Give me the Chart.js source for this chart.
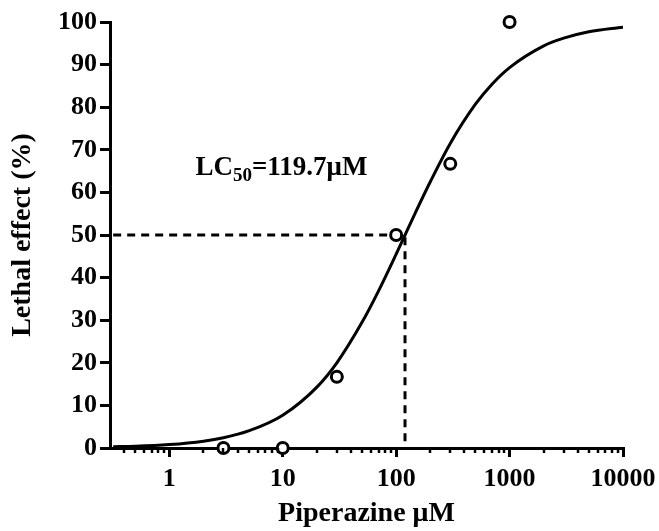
<!DOCTYPE html>
<html>
<head>
<meta charset="utf-8">
<script src="https://cdn.jsdelivr.net/npm/chart.js@4.4.1/dist/chart.umd.min.js"></script>
<style>
  html, body { margin: 0; padding: 0; background: #fff; }
  canvas { display: block; }
</style>
</head>
<body>
<canvas id="lethalChart" width="659" height="531"></canvas>
<script>
  // Observed points (concentration in µM, lethal effect in %)
  const doses = [3, 10, 30, 100, 300, 1000];
  const effects = [0, 0, 16.7, 50, 66.7, 100];

  // Fitted curve
  const curveX = [0.32, 0.5, 1, 2, 3, 5, 10, 20, 30, 50, 70, 100, 150, 200, 300, 500, 700, 1000, 2000, 3000, 5000, 10000];
  const curveY = [0.3, 0.4, 0.8, 1.6, 2.4, 4.0, 7.7, 14.3, 20.0, 29.5, 36.9, 45.5, 55.6, 62.5, 71.5, 80.7, 85.4, 89.3, 94.4, 96.2, 97.7, 98.8];

  const lc50 = 119.7;
  const xMin = 0.32;
  const xMax = 10000;
  const xTickValues = [1, 10, 100, 1000, 10000];

  const serif = "'Liberation Serif', 'Times New Roman', serif";

  // minor log ticks + LC50 label
  const extras = {
    id: 'extras',
    afterDraw(chart) {
      const ctx = chart.ctx;
      const x = chart.scales.x;
      const y = chart.scales.y;
      ctx.save();
      ctx.strokeStyle = '#000';
      ctx.lineWidth = 2.5;
      for (let d = 0.1; d < xMax; d *= 10) {
        for (let m = 2; m <= 9; m++) {
          const v = m * d;
          if (v < xMin || v > xMax) continue;
          const px = Math.round(x.getPixelForValue(v));
          ctx.beginPath();
          ctx.moveTo(px, x.top);
          ctx.lineTo(px, x.top + 5);
          ctx.stroke();
        }
      }

      let tx = x.getPixelForValue(1.7);
      const ty = y.getPixelForValue(64);
      ctx.fillStyle = '#000';
      ctx.textBaseline = 'alphabetic';
      ctx.font = 'bold 27px ' + serif;
      ctx.fillText('LC', tx, ty);
      tx += ctx.measureText('LC').width;
      ctx.font = 'bold 19px ' + serif;
      ctx.fillText('50', tx, ty + 6);
      tx += ctx.measureText('50').width;
      ctx.font = 'bold 27px ' + serif;
      ctx.fillText('=119.7\u03bcM', tx, ty);
      ctx.restore();
    }
  };

  const config = {
    type: 'scatter',
    data: {
      datasets: [
        {
          data: doses.map((d, i) => ({ x: d, y: effects[i] })),
          showLine: false,
          pointStyle: 'circle',
          pointRadius: 5.5,
          pointBorderWidth: 3,
          pointBackgroundColor: '#fff',
          pointBorderColor: '#000',
          clip: false,
        },
        {
          data: curveX.map((d, i) => ({ x: d, y: curveY[i] })),
          showLine: true,
          borderColor: '#000',
          borderWidth: 3,
          pointRadius: 0,
          cubicInterpolationMode: 'monotone',
        },
        {
          data: [{ x: xMin, y: 50 }, { x: lc50, y: 50 }, { x: lc50, y: 0 }],
          showLine: true,
          borderColor: '#000',
          borderWidth: 3,
          borderDash: [8, 6],
          pointRadius: 0,
          fill: false,
        },
      ],
    },
    options: {
      responsive: false,
      animation: false,
      layout: { padding: { top: 22, right: 36, left: 0, bottom: 0 } },
      scales: {
        x: {
          type: 'logarithmic',
          min: xMin,
          max: xMax,
          afterBuildTicks: (scale) => {
            scale.ticks = xTickValues.map(v => ({ value: v }));
          },
          afterFit: (scale) => {
            scale.height = 83;
            scale.paddingRight = 0;
            scale.paddingLeft = 0;
          },
          border: { color: '#000', width: 3 },
          grid: { display: true, drawOnChartArea: false, drawTicks: true, tickLength: 9, color: '#000', lineWidth: 3 },
          ticks: {
            color: '#000',
            padding: 7,
            maxRotation: 0,
            autoSkip: false,
            font: { family: serif, size: 26, weight: 'bold' },
            callback: (v) => String(v),
          },
          title: {
            display: true,
            text: 'Piperazine \u03bcM',
            color: '#000',
            padding: { top: 0, bottom: 0 },
            font: { family: serif, size: 28, weight: 'bold' },
          },
        },
        y: {
          min: 0,
          max: 100,
          afterFit: (scale) => { scale.width = 110; },
          border: { color: '#000', width: 3 },
          grid: { display: true, drawOnChartArea: false, drawTicks: true, tickLength: 10, color: '#000', lineWidth: 3 },
          ticks: {
            stepSize: 10,
            color: '#000',
            padding: 3,
            font: { family: serif, size: 26, weight: 'bold' },
          },
          title: {
            display: true,
            text: 'Lethal effect (%)',
            color: '#000',
            padding: { top: 6, bottom: 0 },
            font: { family: serif, size: 28, weight: 'bold' },
          },
        },
      },
      plugins: {
        legend: { display: false },
        tooltip: { enabled: false },
      },
    },
    plugins: [extras],
  };

  const ctx = document.getElementById('lethalChart').getContext('2d');
  new Chart(ctx, config);
</script>
</body>
</html>
